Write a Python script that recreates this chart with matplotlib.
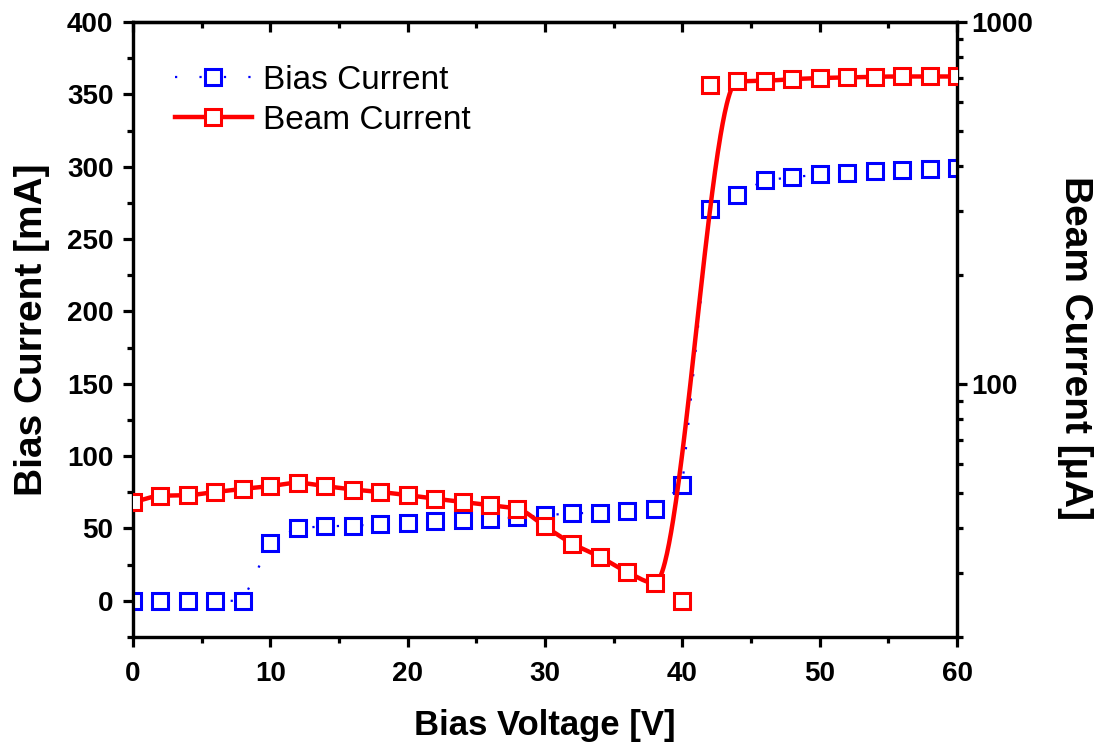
import numpy as np
import matplotlib
matplotlib.use("Agg")
import matplotlib.pyplot as plt
from matplotlib.lines import Line2D
from matplotlib.ticker import (MultipleLocator, LogLocator, NullFormatter,
                               FixedLocator, FuncFormatter)

# ---- data ----
voltage = [0, 2, 4, 6, 8, 10, 12, 14, 16, 18, 20, 22, 24, 26, 28, 30,
           32, 34, 36, 38, 40, 42, 44, 46, 48, 50, 52, 54, 56, 58, 60]
bias_current = [0, 0, 0, 0, 0, 40, 50.4, 51.4, 52, 52.8, 53.9, 55, 55.7, 56.6, 57.6, 59.2,
                60.4, 61, 62.2, 63.2, 80, 271, 280.7, 290.6, 292.7, 294.6, 295.7, 296.9, 297.6, 298.7, 299.2]
beam_current = [47.1, 49.1, 49.3, 50.3, 51.3, 52.2, 53.3, 52.2, 51.1, 50.3, 49.3, 48.2, 47.2, 46.2, 45.2, 40.4,
                36.2, 33.3, 30.2, 28.2, 25.1, 670, 685, 688, 695, 700, 703, 706, 707, 707, 707]
# points excluded from the smooth beam-current curve
beam_curve_skip = [40, 42]
right_ticks = [100, 1000]

plt.rcParams['font.family'] = ['Liberation Sans', 'DejaVu Sans']

def pchip(x, y, xn):
    x = np.asarray(x, float); y = np.asarray(y, float)
    h = np.diff(x); d = np.diff(y) / h
    n = len(x)
    m = np.zeros(n)
    for k in range(1, n - 1):
        if d[k - 1] * d[k] <= 0:
            m[k] = 0.0
        else:
            w1 = 2 * h[k] + h[k - 1]
            w2 = h[k] + 2 * h[k - 1]
            m[k] = (w1 + w2) / (w1 / d[k - 1] + w2 / d[k])
    m[0] = d[0]; m[-1] = d[-1]
    idx = np.clip(np.searchsorted(x, xn) - 1, 0, n - 2)
    hh = h[idx]
    t = (xn - x[idx]) / hh
    h00 = 2 * t**3 - 3 * t**2 + 1
    h10 = t**3 - 2 * t**2 + t
    h01 = -2 * t**3 + 3 * t**2
    h11 = t**3 - t**2
    return h00 * y[idx] + h10 * hh * m[idx] + h01 * y[idx + 1] + h11 * hh * m[idx + 1]

fig = plt.figure(figsize=(10.98, 7.45), dpi=100)
ax = fig.add_axes([0.121, 0.145, 0.7506, 0.8255])
ax2 = ax.twinx()

ms = 12
mew = 2.2
blue_ls = (0, (1, 10))
ax.plot(voltage, bias_current, color='#0000ff', ls=blue_ls, lw=1.6,
        marker='s', ms=ms, mfc='white', mec='#0000ff', mew=mew, zorder=3)

cx = [v for v in voltage if v not in beam_curve_skip]
cy = [b for v, b in zip(voltage, beam_current) if v not in beam_curve_skip]
xs = np.linspace(min(cx), max(cx), 1200)
ys = 10 ** pchip(cx, np.log10(cy), xs)
ax2.plot(xs, ys, color='#ff0000', lw=3.2, zorder=2)
ax2.plot(voltage, beam_current, ls='none', marker='s', ms=ms, mfc='white',
         mec='#ff0000', mew=mew, zorder=3)

ax.set_xlim(0, 60)
ax.set_ylim(-25, 400)
ax2.set_yscale('log')
ax2.set_ylim(20, 1000)

ax.xaxis.set_major_locator(MultipleLocator(10))
ax.xaxis.set_minor_locator(MultipleLocator(5))
ax.yaxis.set_major_locator(MultipleLocator(50))
ax.yaxis.set_minor_locator(MultipleLocator(25))
ax2.yaxis.set_major_locator(FixedLocator(right_ticks))
ax2.yaxis.set_major_formatter(FuncFormatter(lambda v, p: f"{v:g}"))
ax2.yaxis.set_minor_locator(LogLocator(base=10, subs=np.arange(2, 10)))
ax2.yaxis.set_minor_formatter(NullFormatter())

spw = 2.3
for a in (ax, ax2):
    for s in a.spines.values():
        s.set_linewidth(spw)

tfs = 20
ax.tick_params(axis='both', which='major', direction='out', length=7, width=spw,
               labelsize=tfs, top=False, right=False)
ax.tick_params(axis='x', which='major', pad=10)
ax.tick_params(axis='y', which='major', pad=7)
ax.tick_params(axis='both', which='minor', direction='out', length=4, width=spw,
               top=False, right=False)
ax2.tick_params(axis='y', which='major', direction='out', length=7, width=spw, labelsize=tfs)
ax2.tick_params(axis='y', which='minor', direction='out', length=4, width=spw)

sec = ax.secondary_xaxis('top')
sec.xaxis.set_major_locator(MultipleLocator(10))
sec.xaxis.set_minor_locator(MultipleLocator(5))
sec.tick_params(axis='x', which='major', direction='in', length=7, width=spw, labeltop=False)
sec.tick_params(axis='x', which='minor', direction='in', length=4, width=spw)
sec.spines['top'].set_linewidth(spw)

for lab in ax.get_xticklabels() + ax.get_yticklabels() + ax2.get_yticklabels():
    lab.set_fontweight('bold')

ax.set_xlabel('Bias Voltage [V]', fontsize=25, fontweight='bold', labelpad=16)
ax.set_ylabel('Bias Current [mA]', fontsize=28, fontweight='bold',
              va='center', ha='center', rotation_mode='anchor')
ax.yaxis.set_label_coords(-0.1226, 0.5)
ax2.set_ylabel('Beam Current [µA]', fontsize=28, fontweight='bold', rotation=270,
               va='center', ha='center', rotation_mode='anchor')
ax2.yaxis.set_label_coords(1.143, 0.47)

h1 = Line2D([], [], color='#0000ff', ls=blue_ls, lw=1.6, marker='s', ms=ms,
            mfc='white', mec='#0000ff', mew=mew)
h2 = Line2D([], [], color='#ff0000', lw=3.2, marker='s', ms=ms,
            mfc='white', mec='#ff0000', mew=mew)
leg = ax2.legend([h1, h2], ['Bias Current', 'Beam Current'], loc='upper left',
                 bbox_to_anchor=(0.035, 0.952), frameon=False, fontsize=24,
                 handlelength=2.3, handletextpad=0.35, labelspacing=0.27, borderaxespad=0)

fig.savefig('out.png', dpi=100)
